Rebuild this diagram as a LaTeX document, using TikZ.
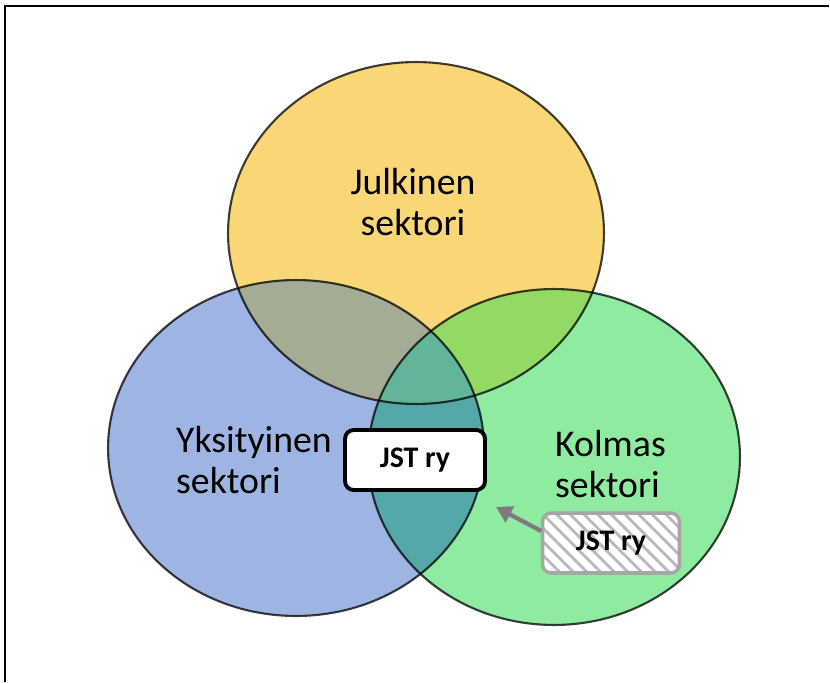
\documentclass[tikz,border=0pt]{standalone}
\usepackage{fontspec}
\setmainfont{Carlito}
\usetikzlibrary{patterns.meta, arrows.meta}

\definecolor{keltainen}{RGB}{249,215,118}
\definecolor{sininen}{RGB}{158,180,226}
\definecolor{vihrea}{RGB}{142,235,160}
\definecolor{ksin}{RGB}{165,172,150}
\definecolor{kvih}{RGB}{146,218,100}
\definecolor{svih}{RGB}{84,168,168}
\definecolor{kaikki}{RGB}{98,180,154}

\begin{document}
\begin{tikzpicture}[x=0.02cm,y=-0.02cm,
  every node/.style={font=\fontsize{21.5}{23}\selectfont},
  reuna/.style={draw=black,draw opacity=0.75,line width=1.2pt},
  jstbox/.style={draw=black,fill=white,rounded corners=5pt,line width=2.2pt,
    minimum width=2.8cm,minimum height=1.2cm,font=\fontsize{17}{20}\bfseries},
  raitabox/.style={draw=gray!70,rounded corners=5pt,line width=2pt,
    preaction={fill=white},
    pattern={Lines[angle=-45,distance=5.5pt,line width=1.6pt]},pattern color=gray!55,
    minimum width=2.74cm,minimum height=1.2cm,font=\fontsize{17}{20}\bfseries}]
  \useasboundingbox (0,0) rectangle (830,682);
  \draw[line width=1.2pt] (5,682) -- (5,6) -- (829,6);
  % ympyrat
  \fill[keltainen] (416,233) ellipse [x radius=3.76cm, y radius=3.42cm];
  \fill[sininen] (296,448) ellipse [x radius=3.76cm, y radius=3.36cm];
  \fill[vihrea] (554,457) ellipse [x radius=3.72cm, y radius=3.36cm];
  \begin{scope}
    \clip (416,233) ellipse [x radius=3.76cm, y radius=3.42cm];
    \fill[ksin] (296,448) ellipse [x radius=3.76cm, y radius=3.36cm];
    \fill[kvih] (554,457) ellipse [x radius=3.72cm, y radius=3.36cm];
  \end{scope}
  \begin{scope}
    \clip (296,448) ellipse [x radius=3.76cm, y radius=3.36cm];
    \fill[svih] (554,457) ellipse [x radius=3.72cm, y radius=3.36cm];
    \clip (416,233) ellipse [x radius=3.76cm, y radius=3.42cm];
    \fill[kaikki] (554,457) ellipse [x radius=3.72cm, y radius=3.36cm];
  \end{scope}
  \path[reuna] (416,233) ellipse [x radius=3.76cm, y radius=3.42cm];
  \path[reuna] (296,448) ellipse [x radius=3.76cm, y radius=3.36cm];
  \path[reuna] (554,457) ellipse [x radius=3.72cm, y radius=3.36cm];
  % tekstit
  \node[align=center] (julk) at (413,202) {Julkinen\\sektori};
  \node[align=left,anchor=west] (yks) at (170,460) {Yksityinen\\sektori};
  \node[align=left,anchor=west] (kolm) at (549,464) {Kolmas\\sektori};
  \node[jstbox] (jst) at (415,460) {JST ry};
  \node[raitabox] (jst2) at (611,543) {JST ry};
  \coordinate (kohde) at (496,507);
  \draw[-{Triangle[length=9pt,width=10pt]},line width=2.4pt,color=gray!95!violet] (jst2.west |- 0,531) -- (kohde);
\end{tikzpicture}
\end{document}
